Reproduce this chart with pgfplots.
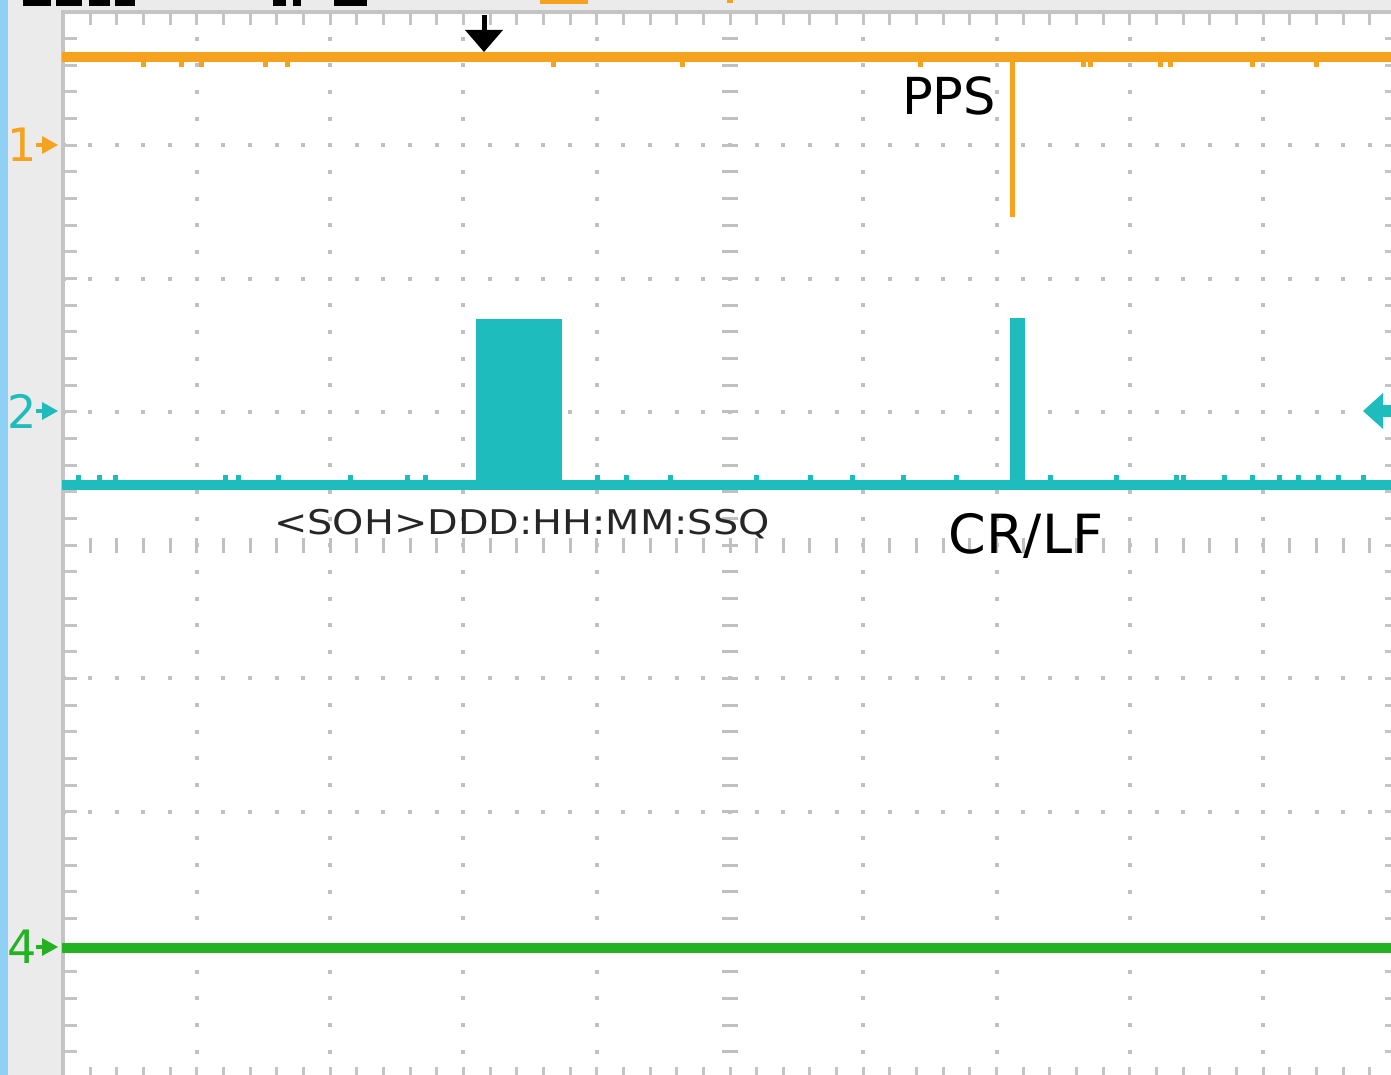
\documentclass[border=0pt]{standalone}
\usepackage{pgfplots}
\pgfplotsset{compat=1.18}
\usepackage{fontspec}
\setmainfont{DejaVu Sans}
\usepackage{graphicx}
\definecolor{cOne}{RGB}{245,162,30}
\definecolor{cTwo}{RGB}{30,188,188}
\definecolor{cFour}{RGB}{34,178,34}
\definecolor{gridc}{RGB}{192,192,192}
\definecolor{bord}{RGB}{196,196,196}
\definecolor{margin}{RGB}{235,235,235}
\definecolor{blu}{RGB}{143,208,245}
\begin{document}
\begin{tikzpicture}[x=1pt,y=1pt]
\useasboundingbox (0,0) rectangle (1391,1075);
\clip (0,0) rectangle (1391,1075);
\fill[white] (0,0) rectangle (1391,1075);
\fill[margin] (0,0) rectangle (62,1075);
\fill[margin] (0,1065) rectangle (1391,1075);
\fill[blu] (0,0) rectangle (8,1075);
% top band fragments
\fill[black] (23,1069) rectangle (51,1075);
\fill[black] (56,1069) rectangle (82,1075);
\fill[black] (89,1069) rectangle (110,1075);
\fill[black] (115,1069) rectangle (135,1075);
\fill[black] (273,1069) rectangle (286,1075);
\fill[black] (293,1069) rectangle (301,1075);
\fill[black] (334,1069) rectangle (367,1075);
\fill[cOne] (540,1071) rectangle (588,1075);
\fill[cOne] (727,1072) rectangle (733,1075);
% grid dots
\foreach \i in {1,2,3,4,6,7,8,9} {
  \draw[gridc, line width=4pt, dash pattern=on 4pt off 22.66pt, dash phase=2pt] ({63.5+133.3*\i},1063) -- ({63.5+133.3*\i},-10);
}
\foreach \j in {1,2,3,5,6,7} {
  \draw[gridc, line width=4pt, dash pattern=on 4pt off 22.66pt, dash phase=2pt] (63.5,{1063-133.3*\j}) -- (1400,{1063-133.3*\j});
}
% centre rulers
\draw[gridc, line width=16pt, dash pattern=on 3pt off 23.66pt, dash phase=1.5pt] (730,1063) -- (730,-10);
\draw[gridc, line width=15pt, dash pattern=on 3pt off 23.66pt, dash phase=1.5pt] (63.5,529.8) -- (1400,529.8);
% border ticks
\draw[bord, line width=11pt, dash pattern=on 3pt off 23.66pt, dash phase=1.5pt] (63.5,1055.5) -- (1400,1055.5);
\draw[bord, line width=12pt, dash pattern=on 3pt off 23.66pt, dash phase=1.5pt] (71,1063) -- (71,-10);
\draw[bord, line width=11pt, dash pattern=on 3pt off 23.66pt, dash phase=1.5pt] (63.5,2.5) -- (1400,2.5);
\draw[bord, line width=11pt, dash pattern=on 3pt off 23.66pt, dash phase=1.5pt] (1390.5,1063) -- (1390.5,-10);
% borders
\draw[bord, line width=4pt] (61,1063) -- (1391,1063);
\draw[bord, line width=4pt] (63,1065) -- (63,0);

\begin{axis}[at={(63.5pt,-3.4pt)}, anchor=south west, scale only axis,
  width=1333pt, height=1066.4pt, xmin=0, xmax=10, ymin=-4, ymax=4,
  hide axis, clip=false]
% channel 1
\addplot[cOne, line width=10pt] coordinates {(-0.01,3.662) (10.1,3.662)};
\addplot[cOne, line width=5pt] coordinates {(7.116,3.662) (7.116,2.462)};
\addplot[cOne, only marks, mark=square*, mark size=2pt] coordinates {
(0.60,3.610) (0.88,3.610) (1.03,3.610) (1.51,3.610) (1.68,3.610) (3.67,3.610) (4.64,3.610)
(6.43,3.610) (7.65,3.610) (7.70,3.610) (8.23,3.610) (8.30,3.610) (8.92,3.610) (9.40,3.610)};
% channel 2
\addplot[cTwo, line width=10pt] coordinates {(-0.01,0.452) (10.1,0.452)};
\addplot[fill=cTwo, draw=none] coordinates {(3.094,0.42) (3.094,1.697) (3.739,1.697) (3.739,0.42)} -- cycle;
\addplot[fill=cTwo, draw=none] coordinates {(7.100,0.42) (7.100,1.704) (7.213,1.704) (7.213,0.42)} -- cycle;
\addplot[cTwo, only marks, mark=square*, mark size=2pt] coordinates {
(0.11,0.508) (0.27,0.508) (0.39,0.508) (1.21,0.508) (1.31,0.508) (1.61,0.508) (2.15,0.508) (2.58,0.508)
(2.71,0.508) (4.00,0.508) (4.22,0.508) (4.55,0.508) (5.20,0.508) (5.60,0.508) (5.92,0.508) (6.30,0.508)
(6.70,0.508) (7.40,0.508) (7.90,0.508) (8.35,0.508) (8.40,0.508) (8.71,0.508) (8.92,0.508) (9.12,0.508)
(9.26,0.508) (9.41,0.508) (9.56,0.508) (9.75,0.508)};
% channel 4
\addplot[cFour, line width=10pt] coordinates {(-0.01,-3.022) (10.1,-3.022)};
\end{axis}

% channel markers
\node[cOne, font=\fontsize{46}{50}\selectfont, inner sep=0] at (22,930) {1};
\fill[cOne] (42,939) -- (58,930) -- (42,921) -- cycle;
\fill[cOne] (36,928) rectangle (43,932);
\node[cTwo, font=\fontsize{46}{50}\selectfont, inner sep=0] at (22,664) {2};
\fill[cTwo] (42,673) -- (58,664) -- (42,655) -- cycle;
\fill[cTwo] (36,662) rectangle (43,666);
\node[cFour, font=\fontsize{46}{50}\selectfont, inner sep=0] at (22,128) {4};
\fill[cFour] (42,137) -- (58,128) -- (42,119) -- cycle;
\fill[cFour] (36,126) rectangle (43,130);
% trigger level marker right
\fill[cTwo] (1363,664) -- (1383,682) -- (1383,646) -- cycle;
\fill[cTwo] (1382,658) rectangle (1391,670);
% trigger position arrow
\fill[black] (482,1060) rectangle (487,1030);
\fill[black] (465,1045) -- (503,1045) -- (484,1023) -- cycle;

% annotations
\node[anchor=base, inner sep=0, font=\fontsize{51}{60}\selectfont] at (949,960) {PPS};
\node[anchor=base, inner sep=0, font=\fontsize{54}{64}\selectfont] at (1026,521) {CR/LF};
\node[anchor=base, inner sep=0, text=black!85, font=\fontsize{34}{40}\selectfont] at (522,540) {\scalebox{1.17}[1]{<SOH>DDD:HH:MM:SSQ}};
\end{tikzpicture}
\end{document}
